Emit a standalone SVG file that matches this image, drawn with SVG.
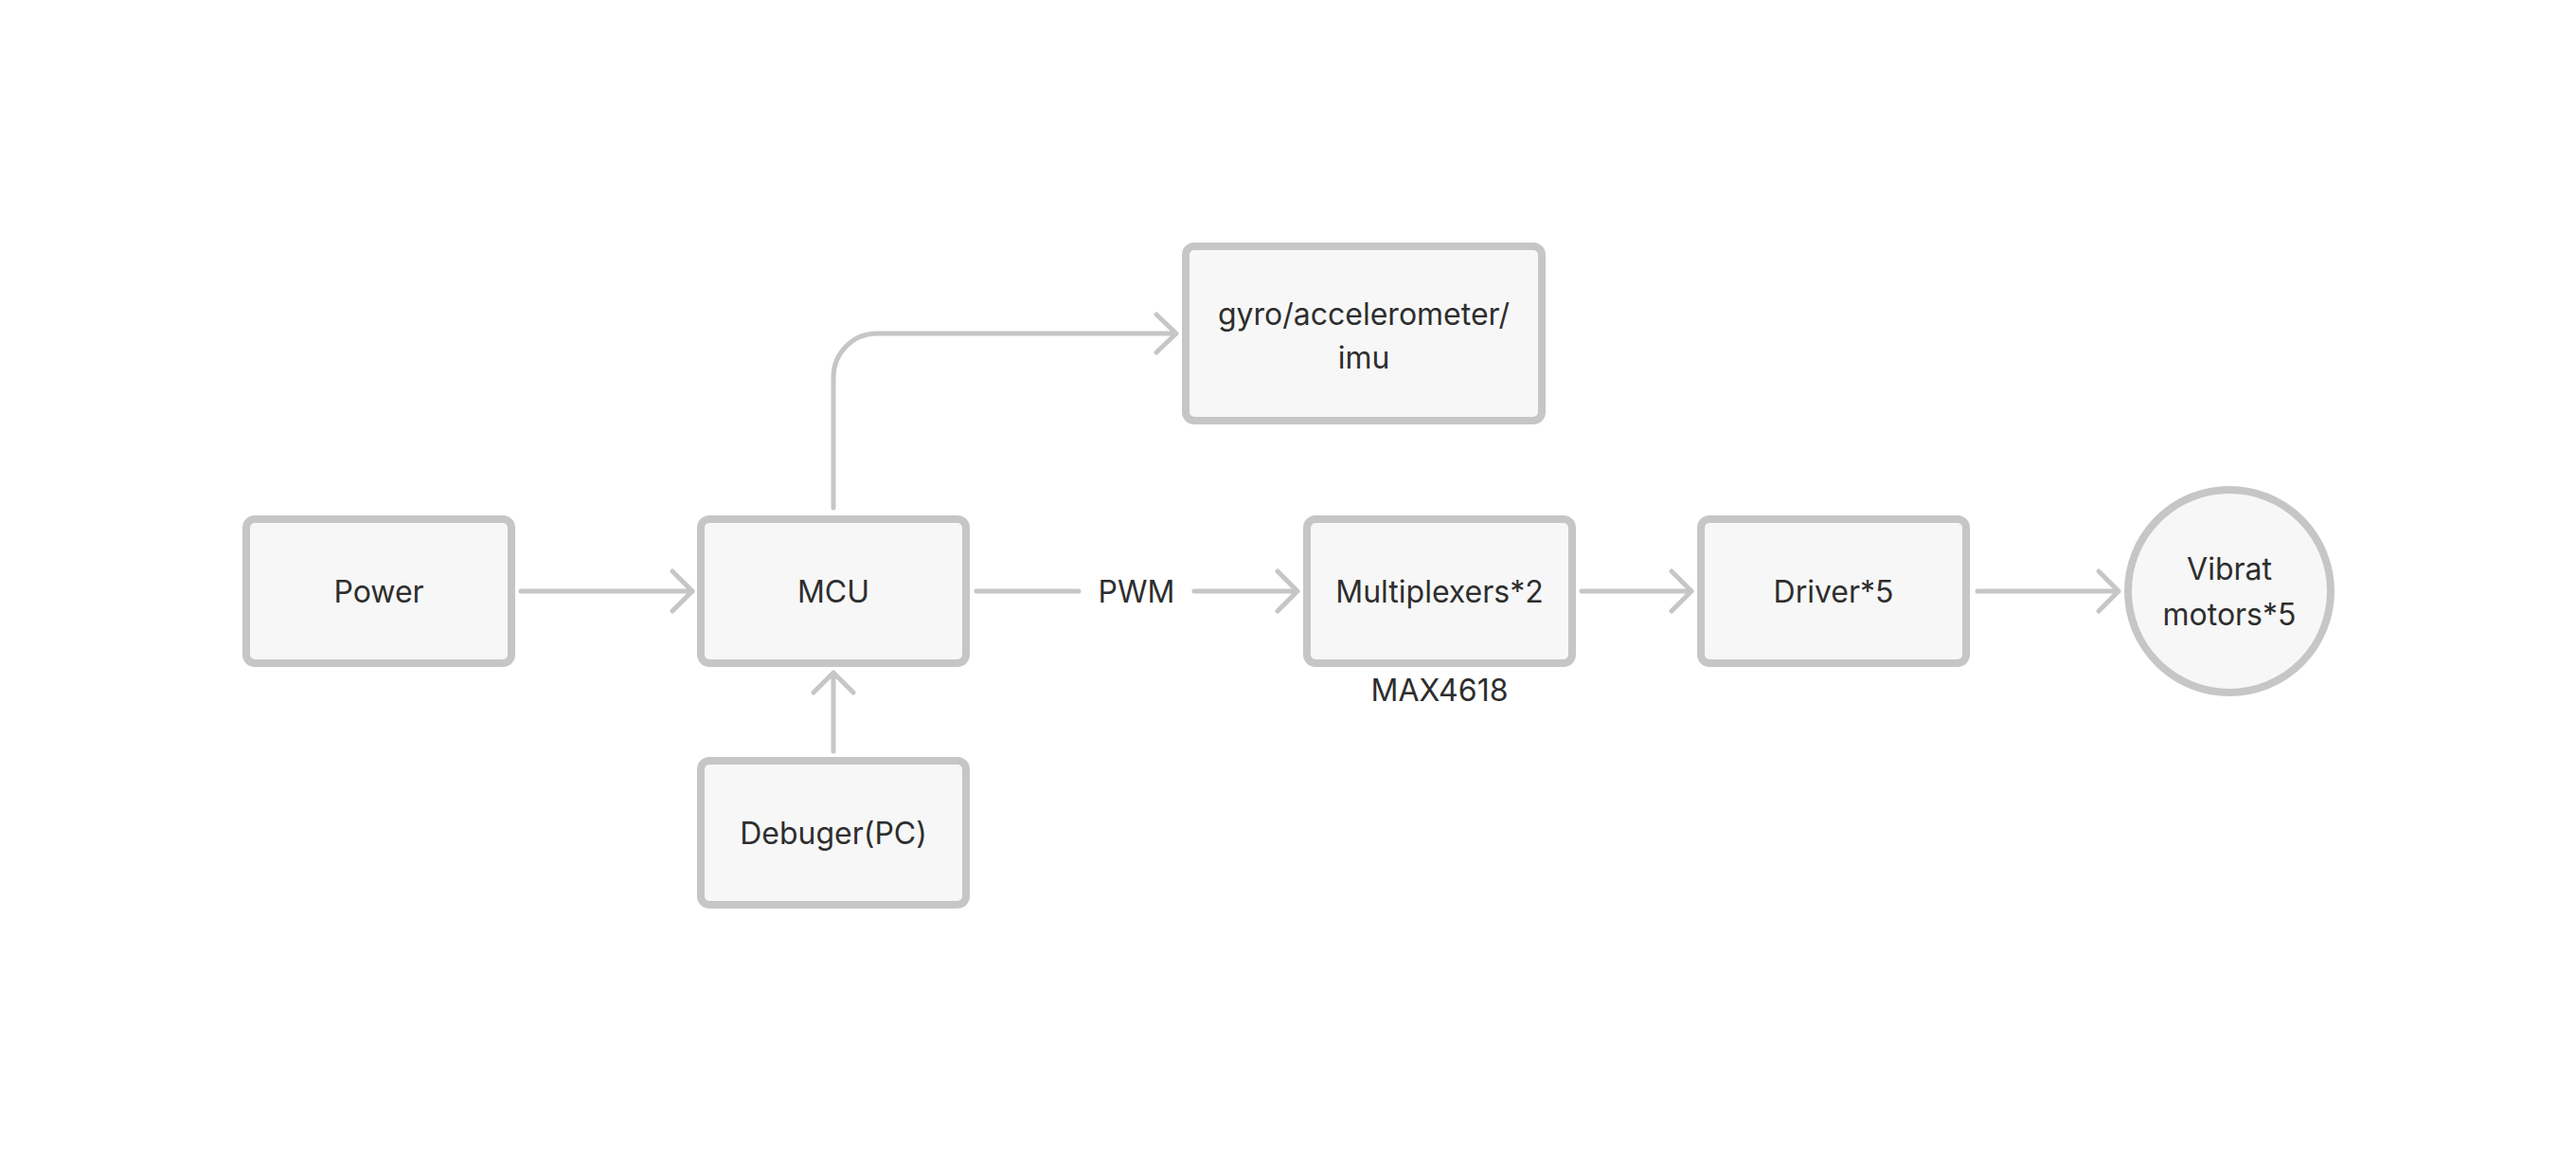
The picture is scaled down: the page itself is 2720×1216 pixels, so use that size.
<svg xmlns="http://www.w3.org/2000/svg" width="2720" height="1216" viewBox="0 0 2720 1216">
<style>
.box{fill:#f7f7f7;stroke:#c6c6c6;stroke-width:8}
.t{font-family:Inter,"Noto Sans","Liberation Sans",sans-serif;font-size:32px;fill:#2e2e2e;text-anchor:middle}
.c{fill:none;stroke:#c6c6c6;stroke-width:5;stroke-linecap:round;stroke-linejoin:round}
</style>
<rect width="2720" height="1216" fill="#ffffff"/>
<g id="connectors">
<path class="c" d="M550 624H731M710 603L731 624L710 645"/>
<path class="c" d="M880 536V398A46 46 0 0 1 926 352H1242M1221 332L1242 352L1221 372"/>
<path class="c" d="M1031 624H1139M1261 624H1370M1349 603L1370 624L1349 645"/>
<text class="t" x="1200" y="636">PWM</text>
<path class="c" d="M1670 624H1786M1765 603L1786 624L1765 645"/>
<path class="c" d="M2088 624H2237M2216 603L2237 624L2216 645"/>
<path class="c" d="M880 793V710M859 731L880 710L901 731"/>
</g>
<g id="power"><rect class="box" x="260" y="548" width="280" height="152" rx="9"/><text class="t" x="400" y="636">Power</text></g>
<g id="mcu"><rect class="box" x="740" y="548" width="280" height="152" rx="9"/><text class="t" x="880" y="636">MCU</text></g>
<g id="gyro"><rect class="box" x="1252" y="260" width="376" height="184" rx="9"/><text class="t" x="1440" y="343">gyro/accelerometer/</text><text class="t" x="1440" y="389">imu</text></g>
<g id="mux"><rect class="box" x="1380" y="548" width="280" height="152" rx="9"/><text class="t" x="1520" y="636">Multiplexers*2</text><text class="t" x="1520" y="740">MAX4618</text></g>
<g id="driver"><rect class="box" x="1796" y="548" width="280" height="152" rx="9"/><text class="t" x="1936" y="636">Driver*5</text></g>
<g id="motors"><circle class="box" cx="2354" cy="624" r="107"/><text class="t" x="2354" y="612">Vibrat</text><text class="t" x="2354" y="660">motors*5</text></g>
<g id="debugger"><rect class="box" x="740" y="803" width="280" height="152" rx="9"/><text class="t" x="880" y="891">Debuger(PC)</text></g>
</svg>
